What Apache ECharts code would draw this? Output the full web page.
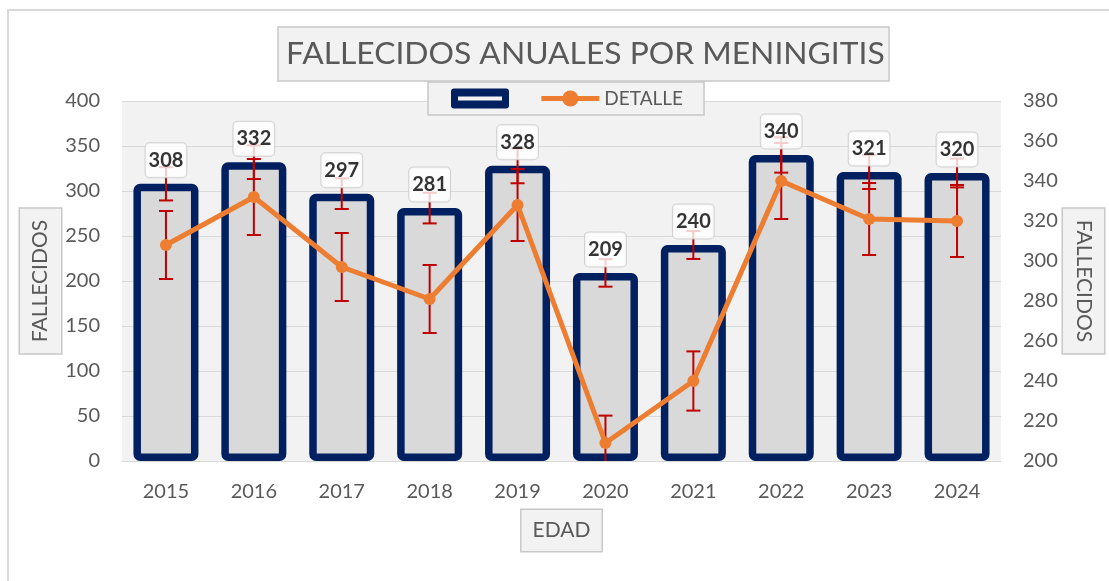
<!DOCTYPE html>
<html>
<head>
<meta charset="utf-8">
<script src="https://cdn.jsdelivr.net/npm/echarts@6/dist/echarts.min.js"></script>
<style>
html, body { margin: 0; padding: 0; background: #fff; }
#chart { width: 1109px; height: 581px; }
</style>
</head>
<body>
<div id="chart"></div>
<script>
var years = ['2015', '2016', '2017', '2018', '2019', '2020', '2021', '2022', '2023', '2024'];
var deaths = [308, 332, 297, 281, 328, 209, 240, 340, 321, 320];
var detalle = [308, 332, 297, 281, 328, 209, 240, 340, 321, 320];
// error amounts
var barErr = [18.5, 18.7, 17, 17, 19.4, 15.3, 15.5, 19.6, 18.8, 16];
var lineErr = [17, 19, 17, 17, 18, 13.7, 14.8, 19, 18, 18];

var font = 'Lato';
var grey = '#595959';

function errorBars(errs) {
	return function(params, api) {
		var i = api.value(0), v = api.value(1), e = errs[params.dataIndex];
		var hi = api.coord([i, v + e]);
		var lo = api.coord([i, v - e]);
		var hw = 7;
		var st = { stroke: '#c00000', lineWidth: 2 };
		return {
			type: 'group',
			children: [
				{ type: 'line', shape: { x1: hi[0], y1: hi[1], x2: lo[0], y2: lo[1] }, style: st },
				{ type: 'line', shape: { x1: hi[0] - hw, y1: hi[1], x2: hi[0] + hw, y2: hi[1] }, style: st },
				{ type: 'line', shape: { x1: lo[0] - hw, y1: lo[1], x2: lo[0] + hw, y2: lo[1] }, style: st }
			]
		};
	};
}

var boxName = {
	fontFamily: font,
	fontSize: 21,
	color: grey,
	backgroundColor: '#f2f2f2',
	borderColor: '#c8c8c8',
	borderWidth: 1.5,
	padding: [10, 11, 10, 11]
};

var chart = echarts.init(document.getElementById('chart'));
chart.setOption({
	backgroundColor: '#fff',
	animation: false,
	graphic: [{
		type: 'rect',
		shape: { x: 8, y: 10, width: 1130, height: 620 },
		style: { fill: 'none', stroke: '#d9d9d9', lineWidth: 2 },
		silent: true
	}],
	title: {
		text: 'FALLECIDOS ANUALES POR MENINGITIS',
		left: 278,
		top: 27,
		padding: [11, 5, 11, 8],
		backgroundColor: '#f2f2f2',
		borderColor: '#c8c8c8',
		borderWidth: 1.5,
		textStyle: { fontFamily: font, fontSize: 31.8, fontWeight: 'normal', color: grey }
	},
	legend: {
		left: 428,
		top: 82,
		padding: [6.5, 21, 6.5, 23],
		backgroundColor: '#f2f2f2',
		borderColor: '#c8c8c8',
		borderWidth: 1.5,
		itemWidth: 58,
		itemHeight: 20,
		itemGap: 20,
		textStyle: { fontFamily: font, fontSize: 19, color: grey },
		data: [
			{
				name: ' ',
				icon: 'path://M3,0 H55 Q58,0 58,3 V17 Q58,20 55,20 H3 Q0,20 0,17 V3 Q0,0 3,0 Z M7,8 V12 H51 V8 Z',
				itemStyle: { color: '#002060', borderWidth: 0 }
			},
			{
				name: 'DETALLE',
				lineStyle: { width: 5, color: '#ED7D31' },
				itemStyle: { color: '#ED7D31', borderWidth: 0 }
			}
		]
	},
	grid: {
		left: 122,
		right: 108,
		top: 101,
		bottom: 120,
		outerBoundsMode: 'none',
		show: true,
		backgroundColor: '#f2f2f2',
		borderWidth: 0
	},
	xAxis: {
		type: 'category',
		data: years,
		name: 'EDAD',
		nameLocation: 'middle',
		nameGap: 49,
		nameMoveOverlap: false,
		nameTextStyle: boxName,
		axisTick: { show: false },
		axisLine: { lineStyle: { color: '#d9d9d9', width: 1 } },
		axisLabel: { fontFamily: font, fontSize: 20, color: grey, margin: 21 }
	},
	yAxis: [
		{
			type: 'value',
			min: 0,
			max: 400,
			interval: 50,
			name: 'FALLECIDOS',
			nameLocation: 'middle',
			nameRotate: 90,
			nameGap: 61,
			nameMoveOverlap: false,
			nameTextStyle: boxName,
			axisLine: { show: false },
			axisTick: { show: false },
			axisLabel: { fontFamily: font, fontSize: 20, color: grey, margin: 22 },
			splitLine: { lineStyle: { color: '#d9d9d9', width: 1 } }
		},
		{
			type: 'value',
			min: 200,
			max: 380,
			interval: 20,
			name: 'FALLECIDOS',
			nameLocation: 'middle',
			nameRotate: -90,
			nameGap: 62,
			nameMoveOverlap: false,
			nameTextStyle: boxName,
			axisLine: { show: false },
			axisTick: { show: false },
			axisLabel: { fontFamily: font, fontSize: 20, color: grey, margin: 22 },
			splitLine: { show: false }
		}
	],
	series: [
		{
			name: ' ',
			type: 'bar',
			yAxisIndex: 0,
			data: deaths,
			barWidth: 65,
			z: 2,
			itemStyle: { color: '#d9d9d9', borderColor: '#002060', borderWidth: 7.5, borderRadius: 3 }
		},
		{
			type: 'custom',
			yAxisIndex: 0,
			z: 3,
			clip: true,
			renderItem: errorBars(barErr),
			data: deaths.map(function(v, i) { return [i, v]; })
		},
		{
			type: 'custom',
			yAxisIndex: 1,
			z: 3,
			clip: true,
			renderItem: errorBars(lineErr),
			data: detalle.map(function(v, i) { return [i, v]; })
		},
		{
			name: 'DETALLE',
			type: 'line',
			yAxisIndex: 1,
			data: detalle,
			z: 4,
			symbol: 'circle',
			symbolSize: 12,
			lineStyle: { color: '#ED7D31', width: 5 },
			itemStyle: { color: '#ED7D31' }
		},
		{
			type: 'scatter',
			yAxisIndex: 0,
			data: deaths,
			z: 6,
			symbolSize: 1,
			itemStyle: { color: 'transparent' },
			silent: true,
			label: {
				show: true,
				position: 'top',
				distance: 6,
				fontFamily: font,
				fontSize: 20,
				fontWeight: 'bold',
				color: '#000',
				backgroundColor: '#fff',
				borderColor: '#c8c8c8',
				borderWidth: 1,
				borderRadius: 4,
				padding: [7, 3, 7, 3]
			}
		}
	]
});
</script>
</body>
</html>
